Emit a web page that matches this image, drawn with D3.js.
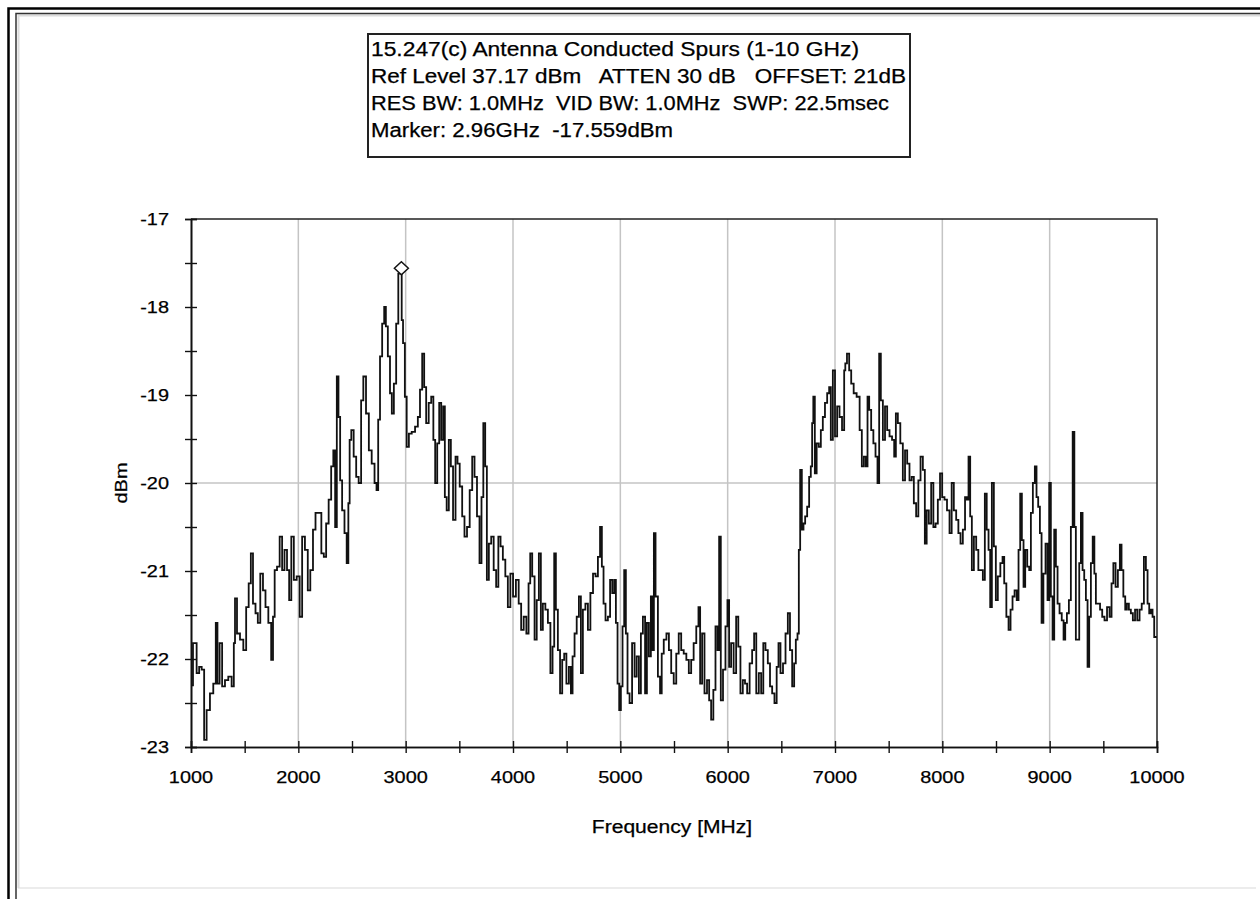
<!DOCTYPE html>
<html><head><meta charset="utf-8">
<script src="https://cdn.jsdelivr.net/npm/d3@7"></script>
<style>
body{margin:0;background:#fff}
svg{display:block}
text{font-family:"Liberation Sans",Arial,sans-serif;fill:#000;stroke:#000;stroke-width:0.25px}
</style>
</head><body>
<svg id="chart" width="1260" height="899"></svg>
<script>
// ---------------- data ----------------
const freqMHz = [
1000,1037,1068,1084,1115,1130,1161,1192,1223,1239,1254,1279,1301,1332,1363,1394,1404,1416,1441,1472,1503,1525,1550,1565,1590,1612,1633,1658,1683,1705,1736,1758,1770,1789,1814,1838,1860,1882,1907,1922,1947,1969,2000,2025,2046,2077,2099,2124,2149,2171,2202,2227,2248,2270,2295,2317,2335,2351,2366,2382,2397,2419,2441,2460,2472,2484,2503,2528,2550,2574,2596,2615,
2646,2668,2699,2721,2736,2752,2770,2792,2808,2823,2845,2863,2879,2901,2922,2941,2960,2966,2985,3000,3019,3041,3072,3103,3124,3143,3165,3180,3202,3227,3249,3267,3283,3305,3320,3342,3357,3373,3391,3413,3429,3454,3475,3491,3516,3537,3559,3584,3609,3631,3652,3677,3699,3714,3733,3749,3764,3786,3808,3832,3854,3873,3895,3916,3941,3963,3988,4013,4041,4065,4087,4112,
4137,4153,4168,4190,4212,4230,4252,4267,4289,4314,4336,4361,4376,4392,4407,4429,4448,4469,4485,4510,4532,4547,4563,4584,4603,4625,4640,4662,4687,4709,4733,4758,4780,4802,4820,4836,4851,4873,4895,4914,4935,4951,4966,4982,4997,5013,5028,5044,5059,5075,5097,5122,5143,5162,5184,5199,5221,5240,5255,5277,5292,5308,5317,5339,5361,5379,5392,5417,5442,5463,5485,5510,5532,5556,5578,5603,
5627,5649,5671,5695,5720,5736,5751,5773,5795,5820,5835,5857,5876,5897,5913,5928,5944,5969,5990,6006,6021,6043,6068,6090,6108,6130,6152,6171,6192,6217,6239,6254,6279,6301,6323,6341,6363,6385,6404,6425,6447,6466,6481,6503,6528,6550,6571,6590,6612,6627,6643,6658,6668,6683,6699,6714,6730,6751,6767,6782,6792,6804,6820,6838,6860,6876,6897,6916,6938,6953,6969,6991,7009,7031,7053,7078,7093,
7099,7124,7140,7162,7186,7217,7242,7258,7280,7295,7311,7326,7348,7367,7388,7404,7419,7435,7457,7475,7497,7519,7544,7559,7575,7596,7621,7643,7662,7683,7705,7724,7745,7767,7786,7808,7829,7845,7863,7885,7907,7926,7947,7969,7988,8009,8031,8056,8078,8096,8118,8140,8159,8180,8202,8221,8236,8252,8267,8283,8305,8326,8345,8367,8388,8404,8423,8438,8454,8469,8491,8506,8528,8553,8569,8584,
8609,8625,8646,8662,8684,8702,8718,8733,8749,8764,8780,8802,8817,8833,8854,8870,8885,8901,8917,8932,8951,8972,8988,9003,9019,9035,9050,9066,9081,9103,9122,9137,9153,9168,9190,9205,9224,9236,9252,9268,9283,9299,9314,9330,9345,9361,9376,9392,9410,9423,9438,9460,9479,9500,9522,9547,9569,9584,9603,9625,9646,9662,9677,9696,9712,9727,9749,9764,9786,9805,9827,9848,9867,9889,9904,9920,9935,9951,9966,9982,10000
];
const levelDbm = [
-22.30,-21.82,-22.16,-22.09,-22.12,-22.92,-22.58,-22.39,-22.28,-21.59,-22.28,-21.82,-22.31,-22.24,-22.20,-22.31,-21.82,-21.31,-21.71,-21.78,-21.90,-21.41,-21.14,-20.80,-21.37,-21.48,-21.59,-21.03,-21.22,-21.41,-21.59,-22.01,-21.52,-20.99,-20.95,-20.61,-20.99,-20.76,-20.99,-21.33,-20.61,-21.10,-21.06,-21.52,-20.61,-20.76,-21.22,-20.99,-20.53,-20.34,-20.34,-20.80,-20.84,-20.46,-20.19,-19.81,-19.63,-20.50,-18.79,-19.25,-19.97,-20.31,-20.57,-20.91,-20.23,-19.51,-19.40,-19.70,-19.93,-20.00,-19.06,-18.79,
-19.21,-19.63,-19.78,-20.00,-20.08,-19.28,-18.56,-18.19,-18.00,-18.22,-18.56,-18.98,-19.21,-18.87,-18.19,-17.62,-17.559,-18.15,-18.41,-19.02,-19.59,-19.44,-19.42,-19.36,-19.25,-18.94,-18.53,-18.91,-19.32,-19.09,-19.02,-19.51,-20.00,-19.55,-19.09,-19.51,-19.13,-20.16,-20.31,-19.51,-19.81,-20.42,-19.70,-19.78,-20.04,-20.38,-20.61,-20.50,-20.08,-19.70,-19.93,-20.38,-20.91,-20.16,-19.32,-19.81,-21.10,-20.69,-20.61,-20.99,-21.18,-20.61,-20.72,-20.87,-21.06,-21.41,-21.03,-21.29,-21.10,-21.37,-21.67,-21.52,
-21.71,-21.14,-20.80,-21.06,-21.78,-21.33,-20.80,-21.67,-21.37,-21.44,-21.59,-22.16,-21.86,-20.80,-21.44,-21.90,-22.39,-22.01,-21.94,-22.28,-22.09,-22.39,-21.97,-21.71,-21.52,-21.29,-22.16,-21.44,-21.37,-21.67,-21.25,-21.03,-21.06,-20.84,-20.50,-20.95,-21.37,-21.56,-21.52,-21.10,-21.25,-21.10,-21.59,-22.28,-22.58,-22.31,-21.63,-20.99,-21.71,-22.39,-22.50,-21.82,-22.20,-21.97,-22.39,-21.71,-21.52,-22.39,-21.59,-21.97,-21.29,-21.90,-20.57,-21.29,-22.20,-22.39,-21.94,-21.78,-21.71,-21.90,-22.16,-22.28,-21.94,-21.71,-21.90,-21.94,
-22.01,-22.16,-22.01,-21.82,-21.63,-21.41,-22.28,-21.71,-22.39,-22.24,-22.47,-22.69,-22.35,-21.63,-21.90,-20.61,-22.47,-22.12,-21.63,-21.33,-22.09,-21.82,-22.16,-21.52,-21.86,-22.39,-22.24,-22.28,-22.39,-22.05,-21.90,-21.71,-22.39,-22.16,-22.39,-21.82,-21.90,-22.05,-22.31,-22.39,-22.50,-22.09,-21.82,-22.16,-22.05,-21.71,-21.48,-21.90,-22.31,-22.05,-21.78,-21.71,-20.76,-19.85,-20.53,-20.46,-20.38,-20.27,-19.93,-19.81,-19.32,-19.02,-19.89,-19.55,-19.59,-19.40,-19.25,-19.09,-18.98,-18.91,-19.51,-18.72,-19.47,-19.13,-19.25,-19.40,-18.72,
-18.64,-18.53,-18.72,-18.87,-18.98,-19.02,-19.40,-19.81,-19.70,-19.81,-19.02,-19.17,-19.40,-19.55,-19.70,-20.00,-18.53,-19.06,-19.51,-19.13,-19.40,-19.47,-19.51,-19.70,-19.21,-19.32,-19.55,-19.97,-19.63,-19.78,-19.97,-19.93,-20.23,-20.38,-19.97,-19.70,-19.85,-20.69,-20.31,-20.46,-20.00,-20.50,-20.46,-20.19,-19.89,-20.16,-20.19,-20.31,-20.57,-20.00,-20.31,-20.42,-20.57,-20.69,-20.53,-20.16,-20.19,-19.70,-20.38,-20.99,-20.61,-20.76,-20.99,-20.99,-21.10,-20.12,-20.53,-20.76,-21.41,-20.00,-20.72,-21.33,-21.06,-20.91,-20.84,-21.14,
-21.52,-21.67,-21.44,-21.29,-21.22,-21.33,-20.76,-20.12,-20.65,-21.18,-20.76,-20.95,-20.99,-20.34,-20.00,-19.81,-20.16,-20.27,-20.57,-21.59,-21.03,-20.69,-21.33,-20.00,-21.29,-21.78,-20.53,-20.95,-21.37,-21.48,-21.56,-21.78,-21.59,-21.48,-21.33,-20.50,-19.42,-20.50,-21.78,-21.78,-20.91,-20.34,-20.99,-21.10,-21.33,-22.09,-21.52,-20.91,-20.61,-21.03,-21.37,-21.37,-21.44,-21.52,-21.56,-21.41,-21.52,-21.14,-20.91,-21.18,-20.99,-20.70,-20.99,-21.29,-21.44,-21.37,-21.44,-21.48,-21.56,-21.44,-21.56,-21.44,-21.37,-20.84,-20.99,-21.37,-21.48,-21.44,-21.52,-21.75,-21.75
];
const xTickValues  = [1000,2000,3000,4000,5000,6000,7000,8000,9000,10000];
const xMinorValues = [1500,2500,3500,4500,5500,6500,7500,8500,9500];
const yTickValues  = [-23,-22,-21,-20,-19,-18,-17];
const yMinorValues = [-22.5,-21.5,-20.5,-19.5,-18.5,-17.5];
const xGridValues  = [2000,3000,4000,5000,6000,7000,8000,9000];
const yGridValues  = [-20];
const markerFreq = 2960, markerLevel = -17.559;
const headerLines = [
  "15.247(c) Antenna Conducted Spurs (1-10 GHz)",
  "Ref Level 37.17 dBm   ATTEN 30 dB   OFFSET: 21dB",
  "RES BW: 1.0MHz  VID BW: 1.0MHz  SWP: 22.5msec",
  "Marker: 2.96GHz  -17.559dBm"
];
const xTitle = "Frequency [MHz]";
const yTitle = "dBm";

// ---------------- layout ----------------
const svg = d3.select("#chart");
const L = 191, R = 1157, T = 219, B = 747;
const STRETCH = 1.17;
function stretch(sel, k) {
  sel.each(function () {
    const w = this.getComputedTextLength();
    this.setAttribute("textLength", w * (k || STRETCH));
    this.setAttribute("lengthAdjust", "spacingAndGlyphs");
  });
}

// frames
svg.append("rect").attr("x", 8.5).attr("y", 8.5).attr("width", 1400).attr("height", 1000)
  .attr("fill", "none").attr("stroke", "#000").attr("stroke-width", 2.5);
svg.append("path").attr("d", `M18,888H1256`).attr("fill", "none")
  .attr("stroke", "#ececec").attr("stroke-width", 2);
svg.append("path").attr("d", `M18.5,888V15.5H1260`).attr("fill", "none")
  .attr("stroke", "#dcdcdc").attr("stroke-width", 2);
svg.append("path").attr("d", `M16,899V13.5H1260`).attr("fill", "none")
  .attr("stroke", "#333").attr("stroke-width", 1.5);

const x = d3.scaleLinear().domain([1000, 10000]).range([L, R]);
const y = d3.scaleLinear().domain([-23, -17]).range([B, T]);

// grid
svg.append("g").selectAll("line").data(xGridValues).join("line")
  .attr("x1", d => x(d)).attr("x2", d => x(d)).attr("y1", T).attr("y2", B)
  .attr("stroke", "#c4c4c4").attr("stroke-width", 1.5);
svg.append("g").selectAll("line").data(yGridValues).join("line")
  .attr("x1", L).attr("x2", R).attr("y1", d => y(d)).attr("y2", d => y(d))
  .attr("stroke", "#c4c4c4").attr("stroke-width", 1.5);

// trace
const pts = freqMHz.map((f, i) => [f, levelDbm[i]]);
svg.append("path").datum(pts)
  .attr("fill", "none").attr("stroke", "#111").attr("stroke-width", 1.8)
  .attr("stroke-linejoin", "miter")
  .attr("d", d3.line().curve(d3.curveStep).x(d => x(d[0])).y(d => y(d[1])));

// frame of plot
svg.append("path").attr("d", `M${L},${T}H${R}V${B}`).attr("fill", "none")
  .attr("stroke", "#222").attr("stroke-width", 1.5);

// axes
const gx = svg.append("g").attr("transform", `translate(0,${B})`);
gx.call(d3.axisBottom(x).tickValues(xTickValues.concat(xMinorValues)).tickSize(6).tickFormat(""));
const gx2 = svg.append("g").attr("transform", `translate(0,${B})`);
gx2.call(d3.axisBottom(x).tickValues(xTickValues.concat(xMinorValues)).tickSize(-6).tickFormat(""));
const gy = svg.append("g").attr("transform", `translate(${L},0)`);
gy.call(d3.axisLeft(y).tickValues(yTickValues.concat(yMinorValues)).tickSize(6).tickFormat(""));
const gy2 = svg.append("g").attr("transform", `translate(${L},0)`);
gy2.call(d3.axisLeft(y).tickValues(yTickValues.concat(yMinorValues)).tickSize(-6).tickFormat(""));
svg.selectAll(".domain").attr("stroke", "#111").attr("stroke-width", 1.6);
svg.selectAll(".tick line").attr("stroke", "#111").attr("stroke-width", 1.4);

// tick labels
svg.append("g").selectAll("text").data(xTickValues).join("text")
  .attr("x", d => x(d)).attr("y", B + 36).attr("text-anchor", "middle")
  .attr("font-size", 17).text(d => d).call(stretch);
svg.append("g").selectAll("text").data(yTickValues).join("text")
  .attr("x", L - 22).attr("y", d => y(d) + 6).attr("text-anchor", "end")
  .attr("font-size", 17).text(d => d).call(stretch);

// axis titles
svg.append("text").attr("x", (L + R) / 2 - 2).attr("y", 833).attr("text-anchor", "middle")
  .attr("font-size", 18).text(xTitle).call(stretch);
svg.append("text").attr("transform", `translate(127,${y(-20)}) rotate(-90)`)
  .attr("text-anchor", "middle").attr("font-size", 17).text(yTitle).call(stretch);

// marker
const mx = x(markerFreq), my = y(markerLevel);
svg.append("path")
  .attr("d", `M${mx - 7},${my}L${mx},${my - 6.5}L${mx + 7},${my}L${mx},${my + 6.5}Z`)
  .attr("fill", "#fff").attr("stroke", "#111").attr("stroke-width", 1.5);

// header box
svg.append("rect").attr("x", 368).attr("y", 34).attr("width", 542).attr("height", 123)
  .attr("fill", "#fff").attr("stroke", "#222").attr("stroke-width", 2);
const headerWidths = [488, 535, 518, 302];
svg.append("g").selectAll("text").data(headerLines).join("text")
  .attr("x", 371).attr("y", (d, i) => 56 + 27 * i)
  .attr("font-size", 19.5).style("white-space", "pre")
  .attr("textLength", (d, i) => headerWidths[i]).attr("lengthAdjust", "spacingAndGlyphs")
  .text(d => d);
</script>
</body></html>
